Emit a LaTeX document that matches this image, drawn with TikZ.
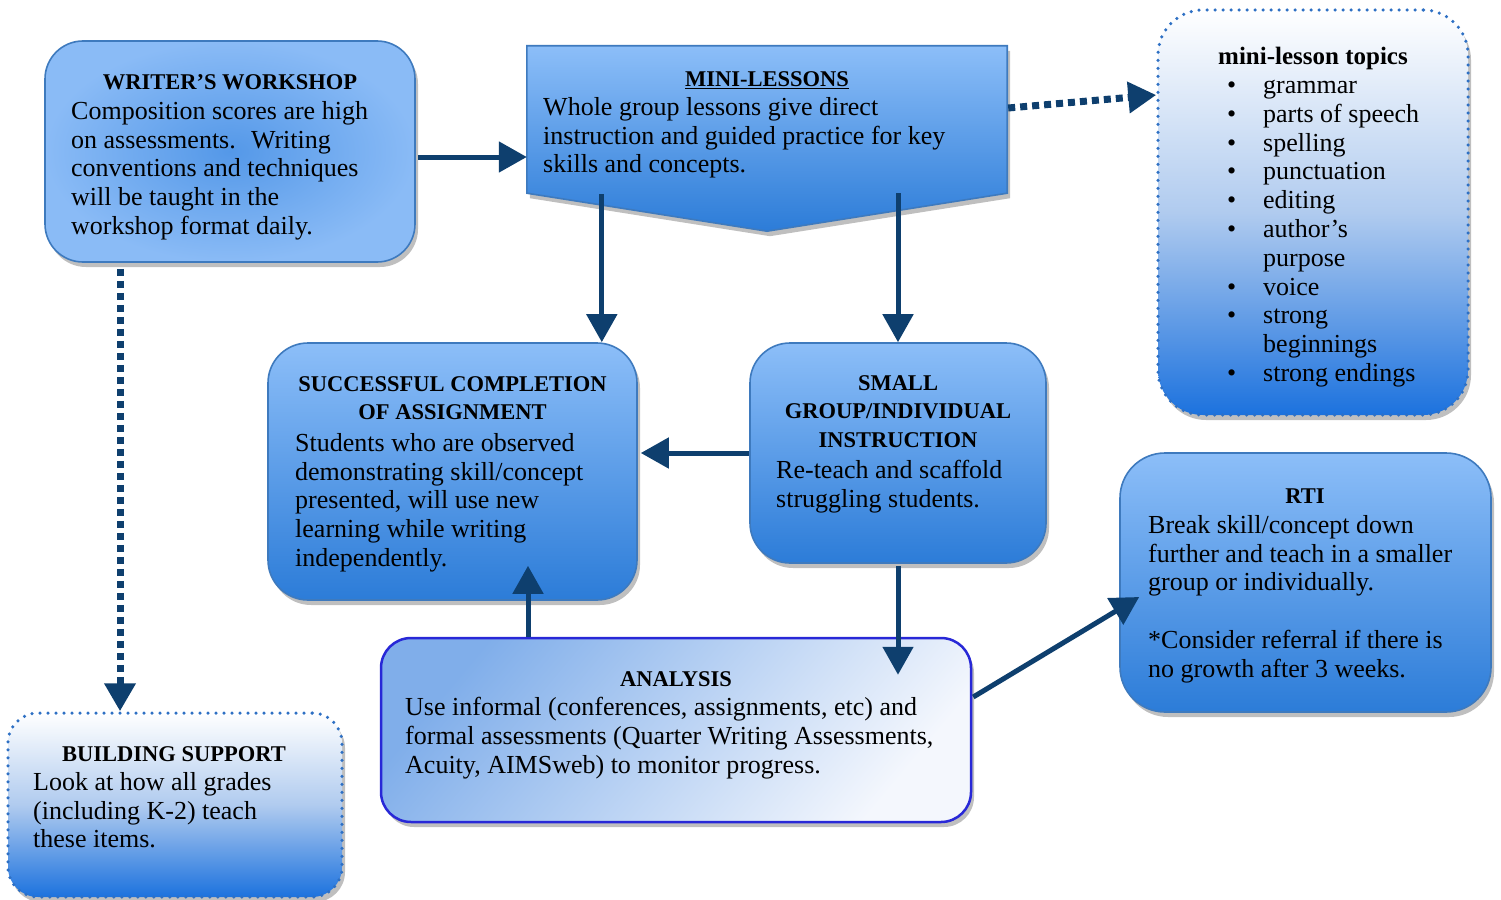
\documentclass[tikz,border=0pt]{standalone}
\usepackage{fontspec}
\setmainfont{Liberation Serif}
\usetikzlibrary{arrows.meta,shadows,calc}
\definecolor{arrowc}{RGB}{14,63,110}
\definecolor{boxborder}{RGB}{62,122,190}
\definecolor{boxtop}{RGB}{140,190,248}
\definecolor{boxbot}{RGB}{44,124,216}
\definecolor{wwlight}{RGB}{138,187,246}
\definecolor{wwdark}{RGB}{84,152,232}
\definecolor{dotblue}{RGB}{46,112,196}
\definecolor{dotmid}{RGB}{176,203,239}
\definecolor{dotbot}{RGB}{28,114,222}
\definecolor{anborder}{RGB}{40,40,215}
\definecolor{antl}{RGB}{128,174,234}
\definecolor{anbr}{RGB}{244,247,253}
\newcommand\bxfont{\fontsize{26}{28.8}\selectfont}
\newcommand\ttlfont{\fontsize{22.5}{28.8}\selectfont\bfseries}
\newcommand\tpfont{\fontsize{25}{28.8}\selectfont\bfseries}
\tikzset{
  x=1pt, y=-1pt,
  shad/.style={drop shadow={shadow xshift=3pt,shadow yshift=-5pt,opacity=0.25,fill=black}},
  bluebox/.style={draw=boxborder, line width=1.6pt, rounded corners=38pt,
    top color=boxtop, bottom color=boxbot, shad, inner sep=0pt},
  wwbox/.style={bluebox, inner color=wwdark, outer color=wwlight},
  dotbox/.style={draw=dotblue, line width=3.5pt, dash pattern=on 0pt off 8pt, line cap=round,
    top color=white, bottom color=dotbot, middle color=dotmid, shad, inner sep=0pt},
  anbox/.style={draw=anborder, line width=2.5pt, rounded corners=30pt,
    top color=antl, bottom color=anbr, shading angle=50, shad, inner sep=0pt},
  holder/.style={inner sep=0pt, draw=none},
  body/.style={anchor=north west, inner sep=0pt, align=left, font=\bxfont,
    execute at begin node={\rule{0pt}{20pt}}},
  ttl/.style={anchor=north, inner sep=0pt, align=center, font=\ttlfont,
    execute at begin node={\rule{0pt}{20pt}}},
  arr/.style={draw=arrowc, line width=5pt, -{Triangle[length=28pt,width=30pt]}},
  darr/.style={arr, line width=7pt, dash pattern=on 7pt off 5pt},
}
\begin{document}
\begin{tikzpicture}
\fill[white] (0,0) rectangle (1501,899);
\useasboundingbox (0,0) rectangle (1501,899);

% boxes
\node[wwbox, minimum width=370pt, minimum height=221pt] (ww) at (230,151.5) {};
\node[holder, minimum width=480pt, minimum height=147pt] (ml) at (767,119.5) {};
\path[draw=boxborder, line width=1.6pt, top color=boxtop, bottom color=boxbot, shad]
  (ml.north west) -- (ml.north east) -- (ml.south east) -- ($(ml.south)+(0,38)$)
  -- (ml.south west) -- cycle;
\node[dotbox, rounded corners=45pt, minimum width=310pt, minimum height=405pt] (tp) at (1313,212.5) {};
\node[bluebox, rounded corners=40pt, minimum width=369pt, minimum height=257pt] (sc) at (452.5,471.5) {};
\node[bluebox, rounded corners=40pt, minimum width=296pt, minimum height=220pt] (sg) at (898,453) {};
\node[bluebox, rounded corners=45pt, minimum width=371pt, minimum height=259pt] (rti) at (1305.5,582.5) {};
\node[anbox, minimum width=590pt, minimum height=184pt] (an) at (676,730) {};
\node[dotbox, rounded corners=30pt, minimum width=334pt, minimum height=184pt] (bs) at (175,805) {};

% texts
\node[ttl] (wwt) at (230,69.5) {WRITER’S WORKSHOP};
\node[body] (wwb) at (71,101) {Composition scores are high\\on assessments.~ Writing\\conventions and techniques\\will be taught in the\\workshop format daily.};

\node[ttl] (mlt) at (767,66) {\underline{MINI-LESSONS}};
\node[body] (mlb) at (543,97) {Whole group lessons give direct\\instruction and guided practice for key\\skills and concepts.};

\node[ttl, font=\tpfont] (tpt) at (1313,44) {mini-lesson topics};
\node[body] (tpb) at (1227,80) {%
\makebox[36pt][l]{\textbullet}grammar\\
\makebox[36pt][l]{\textbullet}parts of speech\\
\makebox[36pt][l]{\textbullet}spelling\\
\makebox[36pt][l]{\textbullet}punctuation\\
\makebox[36pt][l]{\textbullet}editing\\
\makebox[36pt][l]{\textbullet}author’s\\
\makebox[36pt][l]{}purpose\\
\makebox[36pt][l]{\textbullet}voice\\
\makebox[36pt][l]{\textbullet}strong\\
\makebox[36pt][l]{}beginnings\\
\makebox[36pt][l]{\textbullet}strong endings};

\node[ttl] (sct) at (452.5,376) {SUCCESSFUL COMPLETION\\OF ASSIGNMENT};
\node[body] (scb) at (295,433) {Students who are observed\\demonstrating skill/concept\\presented, will use new\\learning while writing\\independently.};

\node[ttl] (sgt) at (898,375) {SMALL\\GROUP/INDIVIDUAL\\INSTRUCTION};
\node[body] (sgb) at (776,460) {Re-teach and scaffold\\struggling students.};

\node[ttl] (rtit) at (1305,483) {RTI};
\node[body] (rtib) at (1148,515) {Break skill/concept down\\further and teach in a smaller\\group or individually.\\[28.8pt]*Consider referral if there is\\no growth after 3 weeks.};

\node[ttl] (ant) at (676,666) {ANALYSIS};
\node[body] (anb) at (405,697) {Use informal (conferences, assignments, etc) and\\formal assessments (Quarter Writing Assessments,\\Acuity, AIMSweb) to monitor progress.};

\node[ttl] (bst) at (174,741) {BUILDING SUPPORT};
\node[body] (bsb) at (33,772) {Look at how all grades\\(including K-2) teach\\these items.};

% connectors
\coordinate (wwr) at ($(ww.east)+(2,5.5)$);
\draw[arr] (wwr) -- (wwr -| ml.west);

\coordinate (mlr) at ($(ml.east)+(1,-11.5)$);
\coordinate (tpl) at ($(tp.west)+(0,-117.5)$);
\draw[darr] (mlr) -- (tpl);

\coordinate (mlsl) at ($(ml.south west)+(75,1)$);
\draw[arr] (mlsl) -- (mlsl |- sc.north);
\draw[arr] (ml.south -| sg.north) -- (sg.north);

\draw[arr] (sg.west) -- ($(sg.west -| sc.east)+(3,0)$);

\coordinate (sgan) at ($(sg.south)+(0,2)$);
\draw[arr] (sgan) -- ($(sgan |- an.north)+(0,38)$);

\coordinate (ansc) at ($(an.north -| sc.south)+(75.5,0)$);
\draw[arr] (ansc) -- ($(sc.south)+(75.5,-35)$);

\draw[arr] ($(an.east)+(1,-33)$) -- ($(rti.west)+(20,14.5)$);

\coordinate (wwbd) at ($(ww.south)+(-110,6)$);
\draw[darr] (wwbd) -- (wwbd |- bs.north);
\end{tikzpicture}
\end{document}
